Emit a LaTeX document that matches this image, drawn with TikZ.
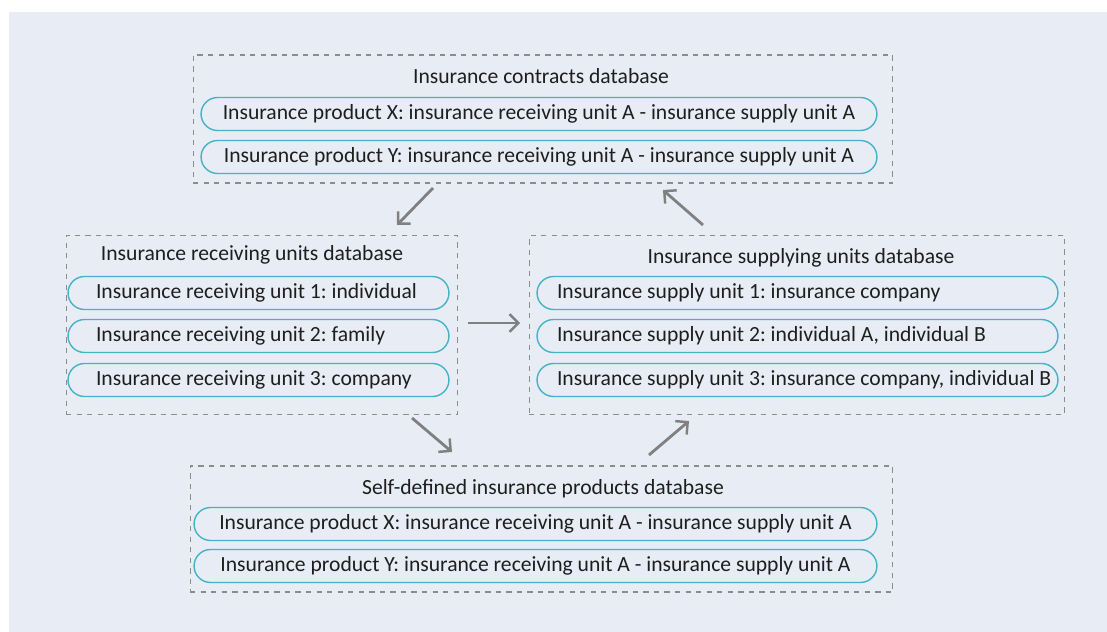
\documentclass[tikz,border=0pt]{standalone}
\usepackage{fontspec}
\setmainfont{Carlito}
\usetikzlibrary{arrows.meta,positioning}
\definecolor{bgfill}{HTML}{E8ECF5}
\definecolor{pillline}{HTML}{45B3C5}
\definecolor{dashline}{HTML}{8C8C8C}
\definecolor{arrowgray}{HTML}{808080}
\definecolor{textdark}{HTML}{1E1E1E}
\tikzset{
    dbbox/.style={
	draw=dashline,
	dashed,
	line width=0.6pt,
	rectangle,
	anchor=center,
	inner sep=0pt
    },
    dbtitle/.style={
	anchor=center,
	text=textdark,
	font=\fontsize{12.3}{14}\selectfont\frenchspacing,
	inner sep=0pt
    },
    pill/.style={
	draw=pillline,
	fill=bgfill,
	line width=0.8pt,
	rounded corners=0.33cm,
	minimum height=0.66cm,
	anchor=center,
	text=textdark,
	font=\fontsize{12.3}{14}\selectfont\frenchspacing,
	inner ysep=0pt
    },
    leftpill/.style={
	pill,
	inner xsep=0pt
    },
    link/.style={
	draw=arrowgray,
	line width=1.6pt
    },
}
\newcommand\unitrow[3]{%
    \makebox[#1][l]{\hspace{#2}#3}}

\begin{document}
\begin{tikzpicture}[x=0.02cm,y=-0.02cm,
    >={Straight Barb[length=5pt,width=10pt,line width=1.4pt]}]

    \useasboundingbox (0,0) rectangle (1107,632);
    \fill[bgfill] (9,12) rectangle (1107,632);

    % dashed database frames
    \node[dbbox, minimum width=14cm, minimum height=2.56cm] (CONTRACTS) at (543,119) {};
    \node[dbbox, minimum width=7.84cm, minimum height=3.58cm] (RECEIVING) at (262,325) {};
    \node[dbbox, minimum width=10.72cm, minimum height=3.58cm] (SUPPLYING) at (797,325) {};
    \node[dbbox, minimum width=14.06cm, minimum height=2.52cm] (SELFDEF) at (541.5,529) {};

    % titles
    \node[dbtitle] (CONTRACTS-T) at (541,76) {Insurance contracts database};
    \node[dbtitle] (RECEIVING-T) at (252,255) {Insurance receiving units database};
    \node[dbtitle] (SUPPLYING-T) at (801,258) {Insurance supplying units database};
    \node[dbtitle] (SELFDEF-T) at (543,489) {Self-defined insurance products database};

    % contracts
    \node[pill, minimum width=13.52cm] (CX) at (539,114) {%
	Insurance product X: insurance receiving unit A - insurance supply unit A};
    \node[pill, minimum width=13.52cm] (CY) at (539,157) {%
	Insurance product Y: insurance receiving unit A - insurance supply unit A};

    % receiving units
    \node[leftpill] (R1) at (258.5,293) {%
	\unitrow{7.62cm}{0.56cm}{Insurance receiving unit 1: individual}};
    \node[leftpill] (R2) at (258.5,336) {%
	\unitrow{7.62cm}{0.56cm}{Insurance receiving unit 2: family}};
    \node[leftpill] (R3) at (258.5,380) {%
	\unitrow{7.62cm}{0.56cm}{Insurance receiving unit 3: company}};

    % supplying units
    \node[leftpill] (S1) at (797.5,293) {%
	\unitrow{10.42cm}{0.4cm}{Insurance supply unit 1: insurance company}};
    \node[leftpill] (S2) at (797.5,336) {%
	\unitrow{10.42cm}{0.4cm}{Insurance supply unit 2: individual A, individual B}};
    \node[leftpill] (S3) at (797.5,380) {%
	\unitrow{10.42cm}{0.4cm}{Insurance supply unit 3: insurance company, individual B}};

    % self-defined products
    \node[pill, minimum width=13.66cm] (DX) at (535.5,524) {%
	Insurance product X: insurance receiving unit A - insurance supply unit A};
    \node[pill, minimum width=13.66cm] (DY) at (535.5,566) {%
	Insurance product Y: insurance receiving unit A - insurance supply unit A};

    % arrow ends
    \coordinate (a1) at (433,188);
    \coordinate (a2) at (397,225);
    \coordinate (b1) at (468,323);
    \coordinate (b2) at (520,323);
    \coordinate (c1) at (412,418);
    \coordinate (c2) at (452,452);
    \coordinate (d1) at (649,455);
    \coordinate (d2) at (689,421);
    \coordinate (e1) at (703,225);
    \coordinate (e2) at (663,190);

    \draw[link,->] (a1) -- (a2);
    \draw[link,->] (b1) -- (b2);
    \draw[link,->] (c1) -- (c2);
    \draw[link,->] (d1) -- (d2);
    \draw[link,->] (e1) -- (e2);
\end{tikzpicture}
\end{document}
